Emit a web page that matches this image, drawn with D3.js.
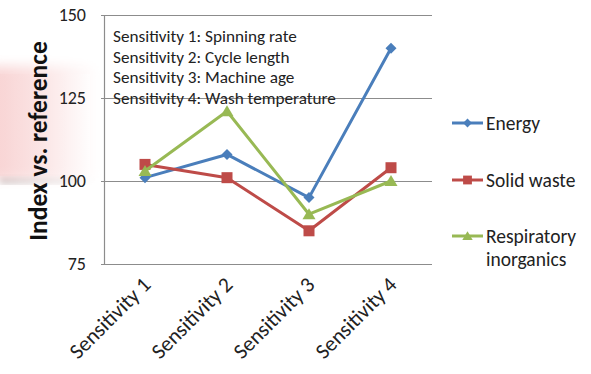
<!DOCTYPE html>
<html>
<head>
<meta charset="utf-8">
<script src="https://cdn.jsdelivr.net/npm/d3@7"></script>
<style>
  html, body { margin: 0; padding: 0; background: #fff; }
  svg { display: block; font-family: Carlito, Lato, "Open Sans", sans-serif; }
</style>
</head>
<body>
<svg id="chart" width="591" height="374"></svg>
<script>
// Sensitivity scenarios on the x axis
const categories = ["Sensitivity 1", "Sensitivity 2", "Sensitivity 3", "Sensitivity 4"];
// Index values relative to the reference case
const energy = [101, 108, 95, 140];
const solidWaste = [105, 101, 85, 104];
const respiratory = [103, 121, 90, 100];
const yTicks = [75, 100, 125, 150];
const notes = [
  "Sensitivity 1: Spinning rate",
  "Sensitivity 2: Cycle length",
  "Sensitivity 3: Machine age",
  "Sensitivity 4: Wash temperature"
];

const series = [
  { name: ["Energy"], values: energy, color: "#4A7EBB", marker: "diamond" },
  { name: ["Solid waste"], values: solidWaste, color: "#BE4B48", marker: "square" },
  { name: ["Respiratory", "inorganics"], values: respiratory, color: "#98B954", marker: "triangle" }
];

const svg = d3.select("#chart");
const plot = { left: 104, right: 432, top: 15, bottom: 264 };

// soft pink panel with shadow behind the axis title
const defs = svg.append("defs");
const pg = defs.append("linearGradient").attr("id", "pinkFade").attr("x1", 0).attr("x2", 1);
pg.append("stop").attr("offset", 0).attr("stop-color", "#f8d3d3");
pg.append("stop").attr("offset", 0.5).attr("stop-color", "#fbe6e6");
pg.append("stop").attr("offset", 1).attr("stop-color", "#ffffff");
const sg = defs.append("linearGradient").attr("id", "shadowFade").attr("x1", 0).attr("x2", 1);
sg.append("stop").attr("offset", 0).attr("stop-color", "#b8b0b0").attr("stop-opacity", 0.7);
sg.append("stop").attr("offset", 0.7).attr("stop-color", "#d8d0d0").attr("stop-opacity", 0.4);
sg.append("stop").attr("offset", 1).attr("stop-color", "#ffffff").attr("stop-opacity", 0);
defs.append("filter").attr("id", "soft").append("feGaussianBlur").attr("stdDeviation", 3);
defs.append("filter").attr("id", "soft2").append("feGaussianBlur").attr("stdDeviation", 6);

svg.append("rect").attr("x", 0).attr("y", 175).attr("width", 100).attr("height", 9)
  .attr("fill", "url(#shadowFade)").attr("filter", "url(#soft)");
svg.append("rect").attr("x", -10).attr("y", 66).attr("width", 108).attr("height", 112)
  .attr("fill", "url(#pinkFade)").attr("filter", "url(#soft2)");
svg.append("rect").attr("x", 0).attr("y", 74).attr("width", 90).attr("height", 102)
  .attr("fill", "url(#pinkFade)").attr("opacity", 0.5);

const x = d3.scaleBand().domain(categories).range([plot.left, plot.right]);
const y = d3.scaleLinear().domain([75, 150]).range([plot.bottom, plot.top]);
const cx = d => x(d) + x.bandwidth() / 2;

// horizontal gridlines
svg.append("g").selectAll("line").data(yTicks).join("line")
  .attr("x1", plot.left - 3).attr("x2", plot.right)
  .attr("y1", d => Math.round(y(d)) + 0.5).attr("y2", d => Math.round(y(d)) + 0.5)
  .attr("stroke", "#8c8c8c").attr("stroke-width", 1.2);

// y axis line and labels
svg.append("line").attr("x1", plot.left + 0.5).attr("x2", plot.left + 0.5)
  .attr("y1", plot.top).attr("y2", plot.bottom + 1)
  .attr("stroke", "#8c8c8c").attr("stroke-width", 1.2);
svg.append("g").selectAll("text").data(yTicks).join("text")
  .attr("x", 86).attr("y", d => y(d) + 6)
  .attr("text-anchor", "end").attr("font-size", 18).attr("fill", "#222")
  .text(d => d);

// axis title
svg.append("text")
  .attr("transform", `translate(46.5,141) rotate(-90)`)
  .attr("text-anchor", "middle").attr("font-size", 25.5).attr("font-weight", "bold")
  .attr("fill", "#111").text("Index vs. reference");

// x category labels, rotated
svg.append("g").selectAll("text").data(categories).join("text")
  .attr("transform", d => `translate(${cx(d) + 7},${plot.bottom + 22}) rotate(-45)`)
  .attr("text-anchor", "end").attr("font-size", 21.5).attr("fill", "#222")
  .text(d => d);

// notes box
svg.append("g").selectAll("text").data(notes).join("text")
  .attr("x", 113).attr("y", (d, i) => 42 + i * 20.5)
  .attr("font-size", 17.2).attr("fill", "#222").text(d => d);

function marker(g, type, color) {
  if (type === "diamond") {
    g.append("path").attr("d", "M0,-5.5L5.5,0L0,5.5L-5.5,0Z").attr("fill", color);
  } else if (type === "square") {
    g.append("rect").attr("x", -5.5).attr("y", -5.5).attr("width", 11).attr("height", 11).attr("fill", color);
  } else {
    g.append("path").attr("d", "M0,-6L6.5,5L-6.5,5Z").attr("fill", color);
  }
}

const line = d3.line().x((d, i) => cx(categories[i])).y(d => y(d));
series.forEach(s => {
  svg.append("path").datum(s.values).attr("d", line)
    .attr("fill", "none").attr("stroke", s.color).attr("stroke-width", 3)
    .attr("stroke-linejoin", "round");
  s.values.forEach((v, i) => {
    marker(svg.append("g").attr("transform", `translate(${cx(categories[i])},${y(v)})`), s.marker, s.color);
  });
});

// legend
const legendY = [123, 180, 236];
series.forEach((s, i) => {
  const g = svg.append("g").attr("transform", `translate(452,${legendY[i]})`);
  g.append("line").attr("x1", 0).attr("x2", 31).attr("stroke", s.color).attr("stroke-width", 3);
  marker(g.append("g").attr("transform", "translate(15.5,0) scale(0.8)"), s.marker, s.color);
  s.name.forEach((t, j) => {
    g.append("text").attr("x", 34).attr("y", 6.5 + j * 23)
      .attr("font-size", 19.5).attr("fill", "#222").text(t);
  });
});
</script>
</body>
</html>
